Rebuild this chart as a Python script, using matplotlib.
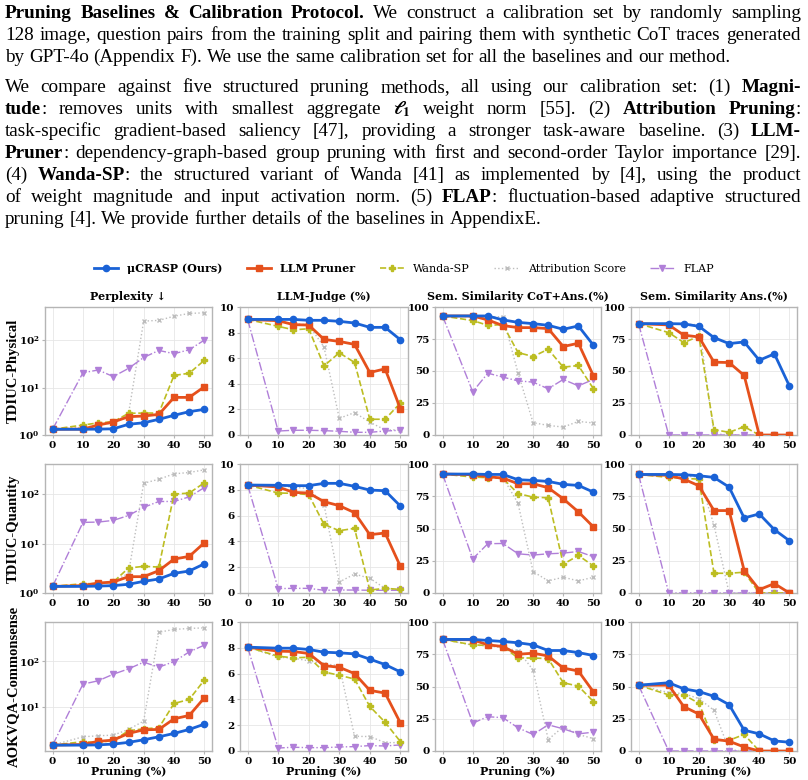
import math
import matplotlib
matplotlib.use("Agg")
import matplotlib.pyplot as plt
from matplotlib.ticker import NullLocator, FuncFormatter
from matplotlib.transforms import IdentityTransform

plt.rcParams['font.family'] = 'DejaVu Serif'
plt.rcParams['font.weight'] = 'bold'
plt.rcParams['mathtext.fontset'] = 'dejavuserif'

# ---------------- texto del articulo ----------------
parrafo1 = [
    "*Pruning Baselines & Calibration Protocol.* We construct a calibration set by randomly sampling",
    "128 image, question pairs from the training split and pairing them with synthetic CoT traces generated",
    "by GPT-4o (Appendix F). We use the same calibration set for all the baselines and our method.",
]
parrafo2 = [
    "We compare against five structured pruning methods, all using our calibration set: (1) *Magni-*",
    "*tude*: removes units with smallest aggregate $\\ell_1$ weight norm [55]. (2) *Attribution Pruning*:",
    "task-specific gradient-based saliency [47], providing a stronger task-aware baseline. (3) *LLM-*",
    "*Pruner*: dependency-graph-based group pruning with first and second-order Taylor importance [29].",
    "(4) *Wanda-SP*: the structured variant of Wanda [41] as implemented by [4], using the product",
    "of weight magnitude and input activation norm. (5) *FLAP*: fluctuation-based adaptive structured",
    "pruning [4]. We provide further details of the baselines in AppendixE.",
]

# ---------------- datos ----------------
poda = [0, 10, 15, 20, 25, 30, 35, 40, 45, 50]
metodos = ['μCRASP (Ours)', 'LLM Pruner', 'Wanda-SP', 'Attribution Score', 'FLAP']
filas = ['TDIUC-Physical', 'TDIUC-Quantity', 'AOKVQA-Commonsense']
titulos = ['Perplexity ↓', 'LLM-Judge (%)', 'Sem. Similarity CoT+Ans.(%)', 'Sem. Similarity Ans.(%)']

# TDIUC-Physical
fis_ppl_ours = [1.32, 1.32, 1.33, 1.35, 1.68, 1.81, 2.14, 2.6, 3.1, 3.47]
fis_ppl_llm = [1.32, 1.33, 1.62, 1.88, 2.43, 2.51, 2.72, 6.2, 6.2, 10.4]
fis_ppl_wanda = [1.32, 1.62, 1.8, 1.9, 2.86, 2.9, 2.9, 18, 20, 37.6]
fis_ppl_attr = [1.32, 1.45, 1.6, 1.8, 2.8, 251, 260, 318, 364, 375]
fis_ppl_flap = [1.32, 20.5, 23.4, 17, 25.3, 43, 60.5, 51.6, 62.6, 100]

fis_judge_ours = [9.03, 9.03, 9.03, 8.96, 8.96, 8.88, 8.75, 8.41, 8.41, 7.44]
fis_judge_llm = [9.03, 8.93, 8.62, 8.59, 7.47, 7.31, 7.08, 4.88, 5.17, 2.06]
fis_judge_wanda = [9.03, 8.49, 8.22, 8.3, 5.4, 6.42, 5.67, 1.23, 1.23, 2.5]
fis_judge_attr = [9.03, 8.9, 8.7, 8.6, 6.87, 1.3, 1.75, 1.0, 0.4, 0.4]
fis_judge_flap = [9.03, 0.31, 0.37, 0.37, 0.34, 0.29, 0.21, 0.21, 0.31, 0.37]

fis_cot_ours = [93, 93, 93, 89.9, 88, 87, 85.7, 82.6, 85.2, 70.1]
fis_cot_llm = [93, 93, 89.9, 85.5, 83.9, 83.9, 83.1, 69.1, 71.7, 46.2]
fis_cot_wanda = [93, 89.4, 85.7, 86.2, 64.4, 61.3, 67, 53, 54.3, 36.1]
fis_cot_attr = [93, 92.5, 92, 92.5, 48.6, 9.6, 7.5, 6.2, 10.6, 9.4]
fis_cot_flap = [93, 33.8, 48.3, 45.2, 42.3, 41.3, 36.1, 43.4, 38.4, 43.4]

fis_ans_ours = [87, 87, 86.8, 84.9, 76.1, 71.4, 72.7, 58.4, 63.4, 38.2]
fis_ans_llm = [87, 86, 78, 76.6, 56.9, 56.6, 46.5, 0, 0, 0]
fis_ans_wanda = [87, 80, 72.2, 77.1, 4.2, 2.1, 6.5, 0, 0, 0]
fis_ans_attr = [87, 87, 86.5, 86.2, 1, 0, 0, 0, 0, 0]
fis_ans_flap = [87, 0, 0, 0, 0, 0, 0, 0, 0, 0]

# TDIUC-Quantity
can_ppl_ours = [1.36, 1.36, 1.38, 1.41, 1.5, 1.72, 1.92, 2.5, 2.78, 3.9]
can_ppl_llm = [1.36, 1.41, 1.59, 1.67, 2.14, 2.14, 2.83, 4.86, 5.5, 10.4]
can_ppl_wanda = [1.36, 1.54, 1.55, 1.67, 3.2, 3.46, 3.35, 100, 105, 170]
can_ppl_attr = [1.36, 1.45, 1.55, 1.7, 2.5, 166, 200, 257, 274, 310]
can_ppl_flap = [1.36, 26.8, 27.2, 29.4, 37, 54, 71, 71, 88, 136]

can_judge_ours = [8.37, 8.35, 8.32, 8.32, 8.5, 8.5, 8.27, 7.98, 7.93, 6.74]
can_judge_llm = [8.37, 8.22, 7.8, 7.75, 7.08, 6.77, 6.23, 4.52, 4.65, 2.07]
can_judge_wanda = [8.37, 7.75, 7.73, 7.62, 5.32, 4.83, 5.01, 0.23, 0.36, 0.28]
can_judge_attr = [8.37, 8.3, 8.2, 8.1, 6.85, 0.85, 1.47, 1.14, 0.36, 0.23]
can_judge_flap = [8.37, 0.34, 0.36, 0.36, 0.21, 0.23, 0.23, 0.21, 0.21, 0.21]

can_cot_ours = [92.2, 92.2, 91.9, 91.9, 87.8, 87.3, 86.5, 84.2, 83.4, 78.2]
can_cot_llm = [92.2, 91.7, 90.1, 89.1, 84.7, 84.7, 81.6, 73, 62.9, 51.2]
can_cot_wanda = [92.2, 89.9, 89.4, 88.8, 77.1, 74.3, 73.8, 22.3, 29.1, 21]
can_cot_attr = [92.2, 91, 90, 89.5, 69.6, 16.6, 9.4, 12.2, 9.4, 12.2]
can_cot_flap = [92.2, 26.5, 38.2, 38.4, 30.4, 29.4, 30.4, 30.9, 32.2, 28.1]

can_ans_ours = [91.9, 91.9, 91.7, 90.9, 89.6, 82.1, 58.2, 61.3, 49.1, 40.5]
can_ans_llm = [91.9, 91.2, 88.3, 83.1, 63.9, 63.9, 17.4, 2.6, 7.3, 0]
can_ans_wanda = [91.9, 89.6, 88.8, 88.3, 15.3, 15.3, 16.1, 0, 0, 0]
can_ans_attr = [91.9, 91, 90.5, 90, 52.7, 0, 0, 0, 0, 0]
can_ans_flap = [91.9, 0, 0, 0, 0, 0, 0, 0, 0, 0]

# AOKVQA-Commonsense
aok_ppl_ours = [1.49, 1.49, 1.51, 1.57, 1.71, 1.95, 2.26, 2.68, 3.27, 4.27]
aok_ppl_llm = [1.49, 1.54, 1.8, 1.92, 2.68, 3.21, 3.27, 5.57, 6.59, 16]
aok_ppl_wanda = [1.49, 1.77, 1.69, 1.89, 3.06, 3.38, 3.56, 12, 14.7, 39]
aok_ppl_attr = [1.49, 2.26, 2.38, 2.46, 3.27, 4.97, 426, 490, 515, 530]
aok_ppl_flap = [1.49, 31.6, 37.4, 52, 68, 95, 74, 98, 159, 224]

aok_judge_ours = [8.05, 7.97, 7.97, 7.87, 7.66, 7.61, 7.53, 7.12, 6.7, 6.13]
aok_judge_llm = [8.05, 7.74, 7.71, 7.56, 6.62, 6.49, 6.0, 4.7, 4.49, 2.18]
aok_judge_wanda = [8.05, 7.35, 7.22, 7.27, 6.13, 5.87, 5.58, 3.45, 2.23, 0.73]
aok_judge_attr = [8.05, 7.27, 7.19, 6.99, 6.75, 6.62, 1.14, 1.12, 0.65, 0.65]
aok_judge_flap = [8.05, 0.23, 0.29, 0.26, 0.26, 0.31, 0.34, 0.42, 0.39, 0.47]

aok_cot_ours = [86.5, 86.5, 85.7, 84.9, 83.9, 82.3, 77.9, 77.9, 76.3, 74]
aok_cot_llm = [86.5, 86.2, 82.3, 81, 75, 75.8, 73.7, 64.3, 62, 45.8]
aok_cot_wanda = [86.5, 82.3, 81.8, 81, 72.1, 72.1, 71.6, 52.9, 50.3, 38.3]
aok_cot_attr = [86.5, 82, 81.5, 80, 77.9, 62.8, 8.9, 18.8, 12.8, 9.6]
aok_cot_flap = [86.5, 21.6, 26.6, 25.8, 18, 12.8, 20.3, 17.2, 13.3, 14.6]

aok_ans_ours = [51, 52.9, 48.2, 46.1, 42.4, 35.9, 16.1, 13.3, 7.8, 6.8]
aok_ans_llm = [51, 51, 34.4, 28.6, 9.1, 7.6, 3.1, 0, 0, 0]
aok_ans_wanda = [51, 43.5, 43.5, 37, 8.3, 8.3, 12.8, 0, 0, 0]
aok_ans_attr = [51, 45.3, 44.5, 40.6, 31.5, 1, 0, 0, 0, 0]
aok_ans_flap = [51, 0, 0, 0, 0, 0, 0, 0, 0, 0]

paneles = [
    [[fis_ppl_ours, fis_ppl_llm, fis_ppl_wanda, fis_ppl_attr, fis_ppl_flap],
     [fis_judge_ours, fis_judge_llm, fis_judge_wanda, fis_judge_attr, fis_judge_flap],
     [fis_cot_ours, fis_cot_llm, fis_cot_wanda, fis_cot_attr, fis_cot_flap],
     [fis_ans_ours, fis_ans_llm, fis_ans_wanda, fis_ans_attr, fis_ans_flap]],
    [[can_ppl_ours, can_ppl_llm, can_ppl_wanda, can_ppl_attr, can_ppl_flap],
     [can_judge_ours, can_judge_llm, can_judge_wanda, can_judge_attr, can_judge_flap],
     [can_cot_ours, can_cot_llm, can_cot_wanda, can_cot_attr, can_cot_flap],
     [can_ans_ours, can_ans_llm, can_ans_wanda, can_ans_attr, can_ans_flap]],
    [[aok_ppl_ours, aok_ppl_llm, aok_ppl_wanda, aok_ppl_attr, aok_ppl_flap],
     [aok_judge_ours, aok_judge_llm, aok_judge_wanda, aok_judge_attr, aok_judge_flap],
     [aok_cot_ours, aok_cot_llm, aok_cot_wanda, aok_cot_attr, aok_cot_flap],
     [aok_ans_ours, aok_ans_llm, aok_ans_wanda, aok_ans_attr, aok_ans_flap]],
]

# estilo de cada metodo: color, marcador, linea, grosor, tamano marcador, zorder
estilos = [
    ('#1a62d6', 'o', '-', 2.0, 4.5, 6),
    ('#e5501c', 's', '-', 2.0, 4.5, 5),
    ('#bcbd22', 'P', '--', 1.2, 5.0, 4),
    ('#bdbdbd', 'x', ':', 1.0, 3.5, 2),
    ('#b07fd8', 'v', '-.', 1.0, 4.0, 3),
]

W, H = 808, 780
fig = plt.figure(figsize=(W / 100, H / 100), dpi=100)

# ---------------- parrafos (justificados) ----------------
renderer = fig.canvas.get_renderer()
TXT = 13.8
X0, X1 = 5, 801


def dibujar_linea(linea, y_px, justificar):
    bold = False
    palabras = []
    for w in linea.split(' '):
        trozos = []
        for i, p in enumerate(w.split('*')):
            if i > 0:
                bold = not bold
            if p:
                t = fig.text(0, H - y_px, p, transform=IdentityTransform(),
                             fontfamily='Liberation Serif', fontsize=TXT,
                             fontweight='bold' if bold else 'normal',
                             math_fontfamily='stix', va='baseline', ha='left')
                trozos.append(t)
        palabras.append(trozos)
    anchos = []
    for trozos in palabras:
        anchos.append([t.get_window_extent(renderer).width for t in trozos])
    total = sum(sum(a) for a in anchos)
    hueco = TXT * 1.39 * 0.25
    if justificar:
        hueco = max((X1 - X0 - total) / (len(palabras) - 1), 2.5)
    x = X0
    for trozos, a in zip(palabras, anchos):
        for t, w in zip(trozos, a):
            t.set_x(x)
            x += w
        x += hueco


for i, linea in enumerate(parrafo1):
    dibujar_linea(linea, 18 + 22 * i, i < len(parrafo1) - 1)
for i, linea in enumerate(parrafo2):
    dibujar_linea(linea, 92 + 22 * i, i < len(parrafo2) - 1)

# ---------------- graficos ----------------
columnas_px = [(45, 212), (240, 408), (435, 601), (631, 797)]
filas_px = [(307, 435), (464, 593), (622, 751)]
potencia = FuncFormatter(lambda v, p: r'$\mathbf{10^{%d}}$' % round(math.log10(v)))

lineas_leyenda = []
for r, (yt, yb) in enumerate(filas_px):
    for c, (xl, xr) in enumerate(columnas_px):
        ax = fig.add_axes([xl / W, 1 - yb / H, (xr - xl) / W, (yb - yt) / H])
        for m, serie in enumerate(paneles[r][c]):
            color, mk, ls, lw, ms, z = estilos[m]
            ln, = ax.plot(poda, serie, color=color, marker=mk, linestyle=ls,
                          linewidth=lw, markersize=ms, zorder=z, label=metodos[m])
            if r == 0 and c == 0:
                lineas_leyenda.append(ln)
        if c == 0:
            ax.set_yscale('log')
            ax.yaxis.set_minor_locator(NullLocator())
            ax.yaxis.set_major_formatter(potencia)
            if r < 2:
                ax.set_ylim(bottom=1)
        elif c == 1:
            ax.set_ylim(0, 10)
            ax.set_yticks([0, 2, 4, 6, 8, 10])
        else:
            ax.set_ylim(0, 100)
            ax.set_yticks([0, 25, 50, 75, 100])
        ax.set_xticks([0, 10, 20, 30, 40, 50])
        ax.grid(True, color='#e6e6e6', linewidth=0.6)
        ax.set_axisbelow(True)
        for s in ax.spines.values():
            s.set_color('#b5b5b5')
            s.set_linewidth(1.0)
        ax.tick_params(labelsize=7.5, length=2.5, width=0.8, color='#b5b5b5', pad=1.5)
        if r == 0:
            ax.set_title(titulos[c], fontsize=8, fontweight='bold', pad=5)
        if r == 2:
            ax.set_xlabel('Pruning (%)', fontsize=8, fontweight='bold', labelpad=0)
    fig.text(13 / W, 1 - (yt + yb) / 2 / H, filas[r], rotation=90, ha='center', va='center',
             fontfamily='Liberation Serif', fontweight='bold', fontsize=10.5)

leg = fig.legend(handles=lineas_leyenda, loc='center', bbox_to_anchor=(0.5, 1 - 268 / H),
                 ncol=5, frameon=False, fontsize=8, handlelength=2.2, columnspacing=2.2)
for i, t in enumerate(leg.get_texts()):
    t.set_fontweight('bold' if i < 2 else 'normal')

plt.savefig('out.png', dpi=100)
